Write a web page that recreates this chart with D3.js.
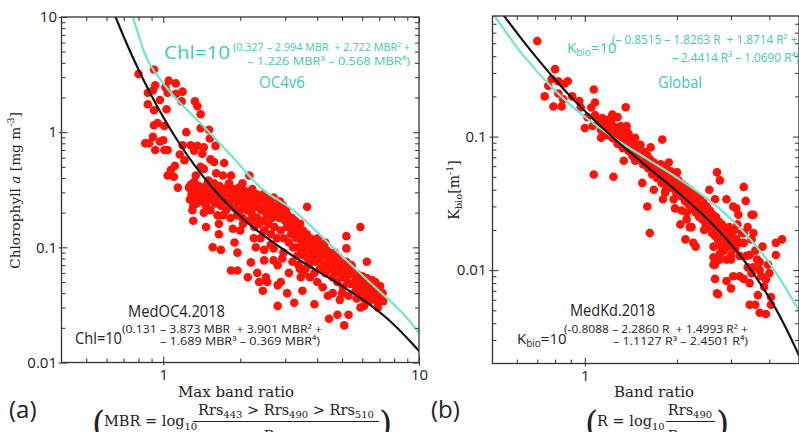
<!DOCTYPE html>
<html><head><meta charset="utf-8">
<script src="https://cdn.jsdelivr.net/npm/d3@7/dist/d3.min.js"></script>
<style>
html,body{margin:0;padding:0;background:#fff;}
svg{display:block;}
</style></head>
<body>
<svg id="chart" width="799" height="432"></svg>
<script>
// ---------------- DATA ----------------
// Panel (a): Max band ratio vs Chlorophyll a [mg m-3]
const chlPoints = [
[0.92,3.5],[0.80,3.2],[1.05,2.8],[1.12,2.65],[0.93,2.55],[1.02,2.45],[1.04,2.2],[1.19,2.25],[0.87,2.2],[0.91,2.3],
[1.12,2.15],[0.97,1.9],[1.18,1.85],[1.33,1.85],[0.87,1.75],[1.36,1.68],[0.92,1.55],[1.03,1.58],[1.40,1.43],[0.95,1.2],
[0.92,1.15],[1.01,1.13],[1.40,1.08],[1.51,1.05],[1.23,1.0],[0.91,0.91],[1.52,0.88],[0.85,0.80],[0.88,0.80],[0.97,0.83],
[1.0,0.85],[1.28,0.77],[1.19,0.77],[1.36,0.76],[1.44,0.74],[1.60,0.76],[0.93,0.70],[1.01,0.70],[1.04,0.70],[1.32,0.69],
[1.16,0.64],[1.42,0.65],[1.21,0.57],[1.53,0.58],[1.58,0.55],[1.73,0.54],[1.40,0.50],[1.11,0.51],[1.07,0.47],[1.44,0.48],
[1.34,0.42],[1.84,0.42],[1.04,0.42],[1.10,0.41],[1.61,0.44],[1.71,0.42],[2.17,0.42],[1.32,0.37],[1.50,0.38],[1.14,0.33],
[1.81,0.36],[2.04,0.36],[2.23,0.32],
[1.26,0.33],[1.29,0.29],[1.33,0.31],[1.27,0.26],[1.36,0.27],[1.31,0.23],[1.30,0.21],[1.31,0.17],[1.38,0.34],[1.35,0.24],[1.39,0.30],[1.28,0.35],
[1.42,0.32],[1.45,0.28],[1.41,0.25],[1.48,0.35],[1.47,0.23],[1.50,0.30],[1.52,0.26],[1.55,0.33],[1.53,0.21],[1.57,0.28],[1.59,0.24],[1.44,0.20],[1.47,0.15],[1.58,0.36],[1.56,0.10],
[1.62,0.31],[1.64,0.27],[1.66,0.34],[1.68,0.23],[1.70,0.29],[1.72,0.25],[1.74,0.32],[1.76,0.21],[1.78,0.27],[1.80,0.35],[1.82,0.23],[1.84,0.30],[1.63,0.19],[1.65,0.16],[1.65,0.13],[1.68,0.095],[1.71,0.19],[1.83,0.18],[1.84,0.063],
[1.86,0.26],[1.88,0.32],[1.90,0.22],[1.92,0.29],[1.94,0.19],[1.96,0.25],[1.98,0.33],[2.0,0.21],[2.02,0.28],[2.04,0.18],[2.06,0.24],[2.08,0.31],[1.87,0.145],[1.90,0.11],[1.95,0.09],[1.95,0.063],[2.0,0.14],[2.05,0.16],
[2.11,0.27],[2.13,0.21],[2.15,0.30],[2.17,0.17],[2.19,0.24],[2.21,0.28],[2.23,0.19],[2.25,0.22],[2.27,0.15],[2.29,0.26],[2.31,0.29],[2.33,0.18],[2.35,0.23],[2.37,0.16],[2.39,0.27],[2.14,0.21],[2.2,0.17],[2.14,0.055],[2.2,0.074],[2.33,0.06],[2.37,0.05],[2.26,0.12],[2.3,0.1],
[2.41,0.21],[2.43,0.26],[2.45,0.17],[2.47,0.29],[2.49,0.14],[2.52,0.23],[2.54,0.19],[2.56,0.27],[2.58,0.16],[2.60,0.21],[2.62,0.25],[2.64,0.13],[2.66,0.18],[2.68,0.23],[2.70,0.27],[2.72,0.15],[2.75,0.20],[2.78,0.12],[2.4,0.12],[2.48,0.095],[2.48,0.077],[2.45,0.042],[2.55,0.05],[2.52,0.055],[2.63,0.105],[2.7,0.077],[2.7,0.098],[2.48,0.14],
[2.81,0.22],[2.84,0.18],[2.86,0.25],[2.88,0.14],[2.91,0.20],[2.94,0.23],[2.96,0.12],[2.99,0.17],[3.02,0.21],[3.05,0.15],[3.07,0.19],[3.10,0.11],[3.13,0.16],[3.16,0.13],[3.19,0.18],[3.22,0.10],[3.25,0.14],[3.28,0.17],[2.8,0.047],[2.8,0.031],[2.8,0.07],[2.88,0.05],[2.92,0.08],[3.05,0.04],[3.1,0.06],[3.25,0.033],[2.95,0.09],[3.2,0.075],
[3.31,0.12],[3.34,0.15],[3.37,0.10],[3.40,0.13],[3.43,0.16],[3.46,0.09],[3.49,0.11],[3.52,0.14],[3.55,0.085],[3.58,0.12],[3.61,0.10],[3.64,0.13],[3.67,0.08],[3.70,0.11],[3.73,0.095],[3.76,0.12],[3.38,0.07],[3.45,0.055],[3.6,0.065],[3.5,0.042],[3.78,0.075],[3.65,0.225],[3.35,0.085],[3.42,0.065],[3.55,0.06],[3.7,0.07],[3.75,0.055],
[3.82,0.10],[3.86,0.085],[3.90,0.11],[3.94,0.075],[3.98,0.095],[4.02,0.12],[4.06,0.08],[4.10,0.065],[4.14,0.09],[4.18,0.105],[4.22,0.07],[4.26,0.085],[4.30,0.06],[4.34,0.095],[4.38,0.075],[4.42,0.065],[4.46,0.09],[3.9,0.06],[4.0,0.05],[4.2,0.045],[4.4,0.038],[3.9,0.032],[4.45,0.024],[4.3,0.11],
[4.52,0.08],[4.56,0.065],[4.60,0.055],[4.64,0.075],[4.68,0.09],[4.72,0.06],[4.76,0.07],[4.80,0.05],[4.85,0.082],[4.90,0.062],[4.95,0.072],[5.0,0.055],[5.05,0.045],[5.1,0.068],[5.15,0.06],[5.2,0.075],[5.25,0.05],[5.3,0.058],[5.35,0.065],[5.4,0.048],[5.45,0.07],[4.8,0.026],[5.1,0.021],[5.3,0.026],[5.2,0.125],[5.2,0.098],[5.3,0.038],[4.6,0.04],[4.9,0.035],[5.0,0.04],
[5.52,0.06],[5.56,0.048],[5.6,0.056],[5.65,0.042],[5.7,0.052],[5.75,0.058],[5.8,0.045],[5.85,0.038],[5.9,0.053],[5.95,0.047],[6.0,0.056],[6.05,0.041],[6.1,0.036],[6.15,0.05],[6.2,0.044],[6.25,0.054],[6.3,0.039],[6.35,0.048],[6.4,0.034],[6.45,0.043],[5.9,0.15],[6.25,0.075],[5.9,0.03],[5.7,0.036],[6.1,0.031],
[6.55,0.052],[6.6,0.042],[6.65,0.047],[6.7,0.036],[6.75,0.05],[6.8,0.04],[6.85,0.045],[6.9,0.033],[6.95,0.042],[7.0,0.038],[7.05,0.046],[7.1,0.035],[7.2,0.04],[6.9,0.03],[7.25,0.034]
];
// MedOC4.2018 curve (black), sampled
const medOC4Curve = [[0.562,23.3],[0.631,11.9],[0.708,6.38],[0.794,3.62],[0.891,2.16],[1.0,1.352],[1.122,0.885],[1.259,0.604],[1.413,0.428],[1.585,0.315],[1.778,0.239],[1.995,0.187],[2.239,0.150],[2.512,0.123],[3.162,0.0862],[3.981,0.0628],[5.012,0.046],[6.31,0.0327],[7.943,0.0215],[10,0.0126]];
// OC4v6 curve (cyan), sampled
const oc4v6Curve = [[0.70,16],[0.76,10],[0.87,4.2],[1.07,2.2],[1.38,1.23],[1.84,0.63],[2.44,0.32],[3.22,0.21],[4.6,0.1],[6.28,0.052],[8.6,0.027],[10,0.018]];

// Panel (b): Band ratio vs Kbio [m-1]
const kbioPoints = [
[0.70,0.52],[0.80,0.32],[0.78,0.27],[0.76,0.24],[0.82,0.26],[0.86,0.25],[0.88,0.26],[0.74,0.20],[0.82,0.21],[0.85,0.19],
[0.79,0.168],[0.84,0.168],[0.91,0.20],[0.96,0.185],[0.97,0.165],[1.07,0.225],[1.08,0.18],[1.05,0.165],[1.02,0.14],[1.08,0.145],
[1.14,0.138],[1.0,0.116],[1.06,0.12],[1.13,0.098],[1.2,0.134],[1.23,0.146],[1.28,0.14],[1.36,0.166],[1.31,0.12],[1.26,0.113],
[1.21,0.113],[1.37,0.12],[1.39,0.105],[1.46,0.098],[1.31,0.098],[1.23,0.098],[1.43,0.08],[1.52,0.087],[1.5,0.075],[1.34,0.066],
[1.46,0.066],[1.57,0.066],[1.07,0.052],[1.24,0.05],[1.45,0.08],[1.64,0.083],[1.62,0.066],[1.68,0.054],[1.79,0.095],[1.88,0.064],
[1.86,0.05],[2.0,0.054],[1.6,0.03],[1.68,0.04],[1.83,0.039],[1.54,0.045],[1.63,0.019],[1.8,0.034],
[1.11,0.128],[1.13,0.112],[1.15,0.135],[1.16,0.118],[1.18,0.103],[1.19,0.125],[1.21,0.108],[1.22,0.131],[1.24,0.097],[1.25,0.118],[1.27,0.104],[1.28,0.088],[1.30,0.112],[1.31,0.094],[1.33,0.082],[1.34,0.101],[1.36,0.089],[1.37,0.111],[1.39,0.078],[1.40,0.094],[1.42,0.085],[1.43,0.072],[1.45,0.091],[1.47,0.079],[1.49,0.068],
[1.51,0.083],[1.53,0.071],[1.55,0.062],[1.56,0.077],[1.58,0.066],[1.60,0.072],[1.61,0.058],[1.63,0.068],[1.65,0.061],[1.66,0.052],[1.68,0.064],[1.70,0.057],[1.72,0.049],[1.73,0.06],[1.75,0.053],[1.77,0.062],[1.78,0.045],[1.80,0.055],[1.82,0.049],[1.84,0.058],[1.85,0.042],[1.87,0.052],[1.89,0.046],[1.91,0.055],[1.93,0.041],[1.95,0.049],[1.97,0.044],[1.99,0.038],
[2.02,0.047],[2.04,0.041],[2.06,0.036],[2.08,0.044],[2.10,0.039],[2.12,0.033],[2.14,0.042],[2.16,0.037],[2.18,0.031],[2.20,0.04],[2.22,0.035],[2.24,0.029],[2.26,0.038],[2.28,0.033],[2.30,0.027],[2.32,0.036],[2.34,0.031],[2.36,0.025],[2.38,0.034],[2.40,0.029],[2.42,0.024],[2.44,0.032],[2.46,0.027],[2.48,0.022],[2.50,0.03],[2.52,0.026],[2.54,0.021],[2.56,0.028],[2.58,0.024],[2.60,0.019],
[2.07,0.028],[2.15,0.024],[2.23,0.021],[2.13,0.017],[2.26,0.016],[2.3,0.015],[2.05,0.022],[2.2,0.021],[2.45,0.02],[2.15,0.027],[2.4,0.026],[1.97,0.029],[1.95,0.034],[1.83,0.038],
[2.62,0.026],[2.64,0.022],[2.66,0.018],[2.68,0.025],[2.70,0.021],[2.72,0.017],[2.74,0.023],[2.76,0.019],[2.78,0.015],[2.80,0.022],[2.82,0.018],[2.84,0.014],[2.86,0.02],[2.88,0.016],[2.9,0.012],[2.92,0.019],[2.94,0.015],[2.96,0.021],[2.98,0.017],[3.0,0.013],
[3.02,0.018],[3.05,0.015],[3.08,0.02],[3.1,0.0145],[3.12,0.017],[3.15,0.022],[3.18,0.016],[3.2,0.0128],[3.25,0.019],[2.63,0.015],[2.63,0.0125],[2.63,0.011],[2.76,0.012],[2.66,0.034],[2.9,0.034],[2.7,0.054],[2.76,0.047],[2.55,0.04],[2.76,0.0133],[3.0,0.012],
[3.37,0.0128],[2.66,0.011],[2.66,0.0086],[2.7,0.0067],[2.9,0.0083],[3.0,0.0073],[3.05,0.009],[3.2,0.009],[3.3,0.0086],[3.45,0.008],[2.72,0.0066],
[3.3,0.042],[3.35,0.033],[3.12,0.029],[3.17,0.026],[3.55,0.026],[3.55,0.019],[3.3,0.016],[3.8,0.015],[4.2,0.016],[4.4,0.017],[4.2,0.013],[3.96,0.011],[3.72,0.0115],[3.77,0.009],[3.55,0.0105],[3.72,0.01],[3.67,0.0065],[3.6,0.0055],[3.45,0.0055],[3.72,0.0048],
[3.9,0.0047],[4.05,0.0055],[4.05,0.0063],[3.4,0.021],[3.45,0.013],[3.5,0.017],[3.6,0.014],[3.65,0.012],[3.4,0.0105],[3.5,0.0095],[3.85,0.0075],[3.9,0.0085],[4.0,0.0095],[3.05,0.03],[3.5,0.026],[3.3,0.019]
];
// MedKd.2018 curve (black), sampled
const medKdCurve = [[0.501,1.052],[0.562,0.731],[0.631,0.517],[0.708,0.372],[0.794,0.2727],[0.891,0.2039],[1.0,0.1553],[1.259,0.0947],[1.585,0.0604],[1.995,0.039],[2.512,0.02415],[3.162,0.01351],[3.981,0.00633],[4.467,0.00394],[5.012,0.00227]];
// Global curve (cyan), sampled
const globalCurve = [[0.501,0.836],[0.631,0.4036],[0.794,0.2249],[1.0,0.1408],[1.259,0.0959],[1.585,0.0687],[1.995,0.0494],[2.512,0.0342],[3.162,0.02143],[3.981,0.0115],[5.012,0.00494]];

// Tick values
const aXMajor = [1, 10];
const aXMinor = [0.5,0.6,0.7,0.8,0.9,2,3,4,5,6,7,8,9];
const aYMajor = [0.01, 0.1, 1, 10];
const aYMinor = [0.02,0.03,0.04,0.05,0.06,0.07,0.08,0.09,0.2,0.3,0.4,0.5,0.6,0.7,0.8,0.9,2,3,4,5,6,7,8,9];
const bXMajor = [1];
const bXMinor = [0.6,0.7,0.8,0.9,2,3,4];
const bYMajor = [0.01, 0.1];
const bYMinor = [0.003,0.004,0.005,0.006,0.007,0.008,0.009,0.02,0.03,0.04,0.05,0.06,0.07,0.08,0.09,0.2,0.3,0.4,0.5,0.6,0.7];

// ---------------- DRAW ----------------
const svg = d3.select('#chart');
const SANS = "'Open Sans', Lato, sans-serif";
const SERIF = "'DejaVu Serif', 'Liberation Serif', serif";
const CYAN_LINE = '#74e4cc', CYAN_TEXT = '#3ec9b1', RED = '#ff1208', INK = '#151515', AX = '#333';

function drawPanel(cfg){
  const x = d3.scaleLog().domain(cfg.xDomain).range(cfg.xRange);
  const y = d3.scaleLog().domain(cfg.yDomain).range(cfg.yRange);
  const [x0, x1] = cfg.xRange, [y1, y0] = cfg.yRange;
  const g = svg.append('g');
  const clipId = 'clip-' + cfg.id;
  g.append('clipPath').attr('id', clipId).append('rect')
    .attr('x', x0).attr('y', y0).attr('width', x1 - x0).attr('height', y1 - y0);
  const plot = g.append('g').attr('clip-path', `url(#${clipId})`);
  plot.append('g').selectAll('circle').data(cfg.points).join('circle')
    .attr('cx', d => x(d[0])).attr('cy', d => y(d[1])).attr('r', 4.3).attr('fill', RED);
  const line = d3.line().x(d => x(d[0])).y(d => y(d[1])).curve(d3.curveCatmullRom.alpha(0.5));
  plot.append('path').datum(cfg.cyan).attr('d', line).attr('fill', 'none')
    .attr('stroke', CYAN_LINE).attr('stroke-width', 2.2);
  plot.append('path').datum(cfg.black).attr('d', line).attr('fill', 'none')
    .attr('stroke', INK).attr('stroke-width', 2.2);

  function addAxis(axisFn, scale, transform, tv, size, labels, pad){
    const a = axisFn(scale).tickValues(tv).tickSizeInner(size).tickSizeOuter(0)
      .tickPadding(pad || 0).tickFormat(labels ? (d => String(d)) : (() => ''));
    const ag = g.append('g').attr('transform', transform).call(a);
    ag.select('.domain').remove();
    ag.selectAll('line').attr('stroke', AX).attr('stroke-width', 1);
    ag.selectAll('text').attr('font-family', SANS).attr('font-size', 15).attr('fill', '#222');
    return ag;
  }
  addAxis(d3.axisBottom, x, `translate(0,${y1})`, cfg.xMajor, -6, true, 7);
  addAxis(d3.axisBottom, x, `translate(0,${y1})`, cfg.xMajor, 3, false);
  addAxis(d3.axisBottom, x, `translate(0,${y1})`, cfg.xMinor, -4, false);
  addAxis(d3.axisTop, x, `translate(0,${y0})`, cfg.xMajor, -6, false);
  addAxis(d3.axisTop, x, `translate(0,${y0})`, cfg.xMinor, -4, false);
  addAxis(d3.axisLeft, y, `translate(${x0},0)`, cfg.yMajor, -6, true, cfg.yPad);
  addAxis(d3.axisLeft, y, `translate(${x0},0)`, cfg.yMajor, 3, false);
  addAxis(d3.axisLeft, y, `translate(${x0},0)`, cfg.yMinor, -4, false);
  addAxis(d3.axisRight, y, `translate(${x1},0)`, cfg.yMajor, -6, false);
  addAxis(d3.axisRight, y, `translate(${x1},0)`, cfg.yMinor, -4, false);
  g.append('rect').attr('x', x0).attr('y', y0).attr('width', x1 - x0).attr('height', y1 - y0)
    .attr('fill', 'none').attr('stroke', AX).attr('stroke-width', 1.3);
}

drawPanel({id:'a', xDomain:[0.4,10], xRange:[61.5,419], yDomain:[0.01,10], yRange:[362.5,17],
  points: chlPoints, black: medOC4Curve, cyan: oc4v6Curve,
  xMajor: aXMajor, xMinor: aXMinor, yMajor: aYMajor, yMinor: aYMinor, yPad: 4.5});
drawPanel({id:'b', xDomain:[0.5,5], xRange:[492.5,799], yDomain:[0.002,0.8], yRange:[363.5,16],
  points: kbioPoints, black: medKdCurve, cyan: globalCurve,
  xMajor: bXMajor, xMinor: bXMinor, yMajor: bYMajor, yMinor: bYMinor, yPad: 6});

// ---------------- TEXT ----------------
function T(x, y, html, o){
  const t = svg.append('text').attr('x', x).attr('y', y).html(html)
    .attr('font-family', o.font || SANS).attr('font-size', o.size).attr('fill', o.fill || '#222');
  if (o.anchor) t.attr('text-anchor', o.anchor);
  if (o.len) t.attr('textLength', o.len).attr('lengthAdjust', 'spacingAndGlyphs');
  if (o.tr) t.attr('transform', o.tr);
  return t;
}
// Panel (a) annotations
T(164, 59, 'Chl=10', {size:17.5, fill:CYAN_TEXT, len:66});
T(233, 51, '(0.327 \u2013 2.994 MBR\u00a0 + 2.722 MBR\u00b2 +', {size:11, fill:CYAN_TEXT, len:177});
T(410, 64.5, '\u2013 1.226 MBR\u00b3 \u2013 0.568 MBR\u2074)', {size:11, fill:CYAN_TEXT, len:163, anchor:'end'});
T(282, 88, 'OC4v6', {size:15.5, fill:CYAN_TEXT, anchor:'middle', len:46});
T(176.5, 317, 'MedOC4.2018', {size:16, len:97, anchor:'middle'});
T(75, 344, 'Chl=10', {size:15.5, len:47});
T(122, 332.5, '(0.131 \u2013 3.873 MBR\u00a0 + 3.901 MBR\u00b2 +', {size:11, len:200});
T(320, 344.5, '\u2013 1.689 MBR\u00b3 \u2013 0.369 MBR\u2074)', {size:11, len:160, anchor:'end'});

// Panel (b) annotations
T(567, 53, 'K<tspan font-size="10" dy="3">bio</tspan><tspan dy="-3">=10</tspan>', {size:15, fill:CYAN_TEXT});
T(612, 44, '(\u2013 0.8515 \u2013 1.8263 R\u00a0 + 1.8714 R\u00b2 +', {size:11.8, fill:CYAN_TEXT});
T(672, 62, '\u2013 2.4414 R\u00b3 \u2013 1.0690 R\u2074)', {size:11.8, fill:CYAN_TEXT});
T(680, 88, 'Global', {size:15.5, fill:CYAN_TEXT, anchor:'middle', len:44});
T(612.5, 316, 'MedKd.2018', {size:16, len:85, anchor:'middle'});
T(517, 344, 'K<tspan font-size="10" dy="3">bio</tspan><tspan dy="-3">=10</tspan>', {size:15});
T(564, 332.5, '(-0.8088 \u2013 2.2860 R\u00a0 + 1.4993 R\u00b2 +', {size:11, len:184});
T(748, 344.5, '\u2013 1.1127 R\u00b3 \u2013 2.4501 R\u2074)', {size:11, len:135, anchor:'end'});

// Axis titles
T(236, 397, 'Max band ratio', {font:SERIF, size:15, anchor:'middle'});
T(654, 397, 'Band ratio', {font:SERIF, size:15, anchor:'middle'});
T(0, 0, 'Chlorophyll <tspan font-style="italic">a</tspan> [mg m<tspan font-size="9.5" dy="-6">-3</tspan><tspan dy="6">]</tspan>',
  {font:SERIF, size:13.7, anchor:'middle', tr:'translate(20,190.5) rotate(-90)'});
T(0, 0, 'K<tspan font-size="10" dy="3">bio</tspan><tspan dy="-3">[m</tspan><tspan font-size="9.5" dy="-6">-1</tspan><tspan dy="6">]</tspan>',
  {font:SERIF, size:14, anchor:'middle', tr:'translate(459,190) rotate(-90)'});

// Panel letters
T(9, 418, '(a)', {size:24});
T(431, 418, '(b)', {size:24});

// Band-ratio definitions (clipped by the bottom edge, as in the original)
function bandDef(cfg){
  T(cfg.px, 435, '(', {font:SERIF, size:34});
  T(cfg.lx, 426, cfg.lhs + ' = log<tspan font-size="10" dy="4">10</tspan>', {font:SERIF, size:14.5});
  T(cfg.nx, 415, cfg.num, {font:SERIF, size:14.5, anchor:'middle'});
  svg.append('line').attr('x1', cfg.b0).attr('x2', cfg.b1).attr('y1', 421.5).attr('y2', 421.5)
    .attr('stroke', '#222').attr('stroke-width', 1);
  T(cfg.nx, 441, 'Rrs<tspan font-size="10" dy="3">555</tspan>', {font:SERIF, size:14.5, anchor:'middle'});
  T(cfg.cx, 435, ')', {font:SERIF, size:34});
}
bandDef({px:92, lx:104, lhs:'MBR', nx:286,
  num:'Rrs<tspan font-size="10" dy="3">443</tspan><tspan dy="-3"> &gt; Rrs</tspan><tspan font-size="10" dy="3">490</tspan><tspan dy="-3"> &gt; Rrs</tspan><tspan font-size="10" dy="3">510</tspan>',
  b0:193, b1:379, cx:379});
bandDef({px:585, lx:597, lhs:'R', nx:690,
  num:'Rrs<tspan font-size="10" dy="3">490</tspan>', b0:666, b1:715, cx:716});
</script>
</body></html>
